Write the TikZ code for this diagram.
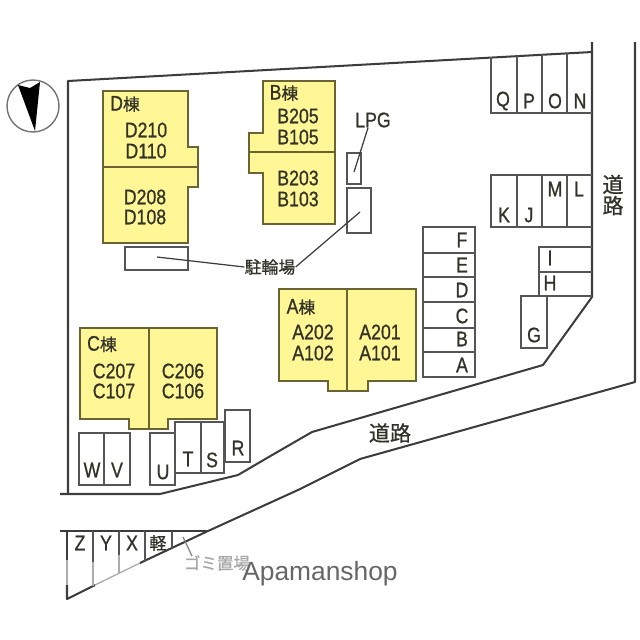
\documentclass[tikz,border=0pt]{standalone}
\usepackage{fontspec}
\setmainfont[FakeStretch=0.84, FakeBold=0.8]{Liberation Sans}
\newfontfamily\cjk[FakeBold=0.8]{Noto Sans CJK JP}
\newfontfamily\logofont{Liberation Sans}
\usepackage{tikz}
\usetikzlibrary{positioning}
\definecolor{buildingyellow}{RGB}{255,247,150}
\definecolor{buildingline}{RGB}{105,100,50}
\definecolor{planline}{RGB}{60,60,60}
\definecolor{stallline}{RGB}{85,85,85}
\definecolor{labelcolor}{RGB}{50,50,40}
\newcommand{\tou}{{\cjk\fontsize{9.6}{10}\selectfont 棟}}
\begin{document}
\begin{tikzpicture}[
    x=0.02cm, y=-0.02cm,
    boundary/.style={draw=planline, line width=1.15pt, line join=round},
    building/.style={draw=buildingline, line width=0.95pt, fill=buildingyellow},
    divider/.style={draw=buildingline, line width=0.95pt},
    stall/.style={draw=stallline, line width=0.75pt},
    faded/.style={draw=gray!65, line width=0.75pt},
    leader/.style={draw=planline, line width=0.7pt},
    lbl/.style={inner sep=0pt, text=labelcolor, font=\fontsize{12}{12}\selectfont},
    kanji/.style={inner sep=0pt, text=labelcolor, font=\cjk\fontsize{9.6}{10}\selectfont},
    road/.style={inner sep=0pt, text=labelcolor, font=\cjk\fontsize{12}{12}\selectfont}
]
    \useasboundingbox (0,0) rectangle (640,640);

    % Compass
    \draw[draw=gray!90!black, line width=0.8pt, fill=white] (33,106) circle (26);
    \fill[black] (18,85) -- (30,88) -- (40,82) -- (35,131) -- cycle;

    % Site and roads
    \draw[boundary] (592,42) -- (592,52) -- (68,81) -- (68,494);
    \draw[boundary] (60,494) -- (160,494) -- (238,475) -- (267,458) -- (312,432) -- (543,365) -- (592,297) -- (592,52);
    \draw[boundary] (635,42) -- (635,382) -- (360,459) -- (298,490) -- (208,531);
    \draw[boundary] (60,531) -- (208,531);
    \draw[boundary] (67,531) -- (67,560);
    \draw[faded] (67,560) -- (67,585);
    \draw[boundary] (67,585) -- (67,599) -- (95,585);
    \draw[faded] (95,585) -- (140,563);
    \draw[boundary] (140,563) -- (208,531);

    % Building D
    \draw[building] (103,91) -- (188,91) -- (188,147) -- (198,147) -- (198,187) -- (188,187) -- (188,243) -- (103,243) -- cycle;
    \draw[divider] (103,167) -- (198,167);
    \node[lbl] (dname) at (125,104) {D\tou};
    \node[lbl] (d210) at (146,130) {D210};
    \node[lbl] (d110) at (146,151) {D110};
    \node[lbl] (d208) at (145,197) {D208};
    \node[lbl] (d108) at (145,217) {D108};

    % Building B
    \draw[building] (263,81) -- (335,81) -- (335,224) -- (263,224) -- (263,173) -- (249,173) -- (249,133) -- (263,133) -- cycle;
    \draw[divider] (249,152) -- (335,152);
    \node[lbl] (bname) at (284,93) {B\tou};
    \node[lbl] (b205) at (298,116) {B205};
    \node[lbl] (b105) at (298,137) {B105};
    \node[lbl] (b203) at (298,178) {B203};
    \node[lbl] (b103) at (298,199) {B103};

    % Building A
    \draw[building] (279,289) -- (416,289) -- (416,381) -- (368,381) -- (368,391) -- (328,391) -- (328,381) -- (279,381) -- cycle;
    \draw[divider] (347,289) -- (347,391);
    \node[lbl] (aname) at (301,307) {A\tou};
    \node[lbl] (a202) at (313,332) {A202};
    \node[lbl] (a102) at (313,353) {A102};
    \node[lbl] (a201) at (380,332) {A201};
    \node[lbl] (a101) at (380,353) {A101};

    % Building C
    \draw[building] (80,328) -- (217,328) -- (217,419) -- (168,419) -- (168,429) -- (129,429) -- (129,419) -- (80,419) -- cycle;
    \draw[divider] (149,328) -- (149,429);
    \node[lbl] (cname) at (102,344) {C\tou};
    \node[lbl] (c207) at (114,371) {C207};
    \node[lbl] (c107) at (114,391) {C107};
    \node[lbl] (c206) at (183,371) {C206};
    \node[lbl] (c106) at (183,391) {C106};

    % Small boxes
    \draw[stall] (125,247) rectangle (188,270);
    \draw[stall] (347,153) rectangle (361,184);
    \draw[stall] (347,188) rectangle (371,233);

    % Parking Q P O N
    \draw[stall] (491,57) -- (491,113) -- (592,113);
    \draw[stall] (517,55) -- (517,113);
    \draw[stall] (542,54) -- (542,113);
    \draw[stall] (567,53) -- (567,113);
    \node[lbl] (q) at (503,101) {Q};
    \node[lbl] (p) at (529,101) {P};
    \node[lbl] (o) at (555,101) {O};
    \node[lbl] (n) at (580,101) {N};

    % Parking K J M L
    \draw[stall] (592,175) -- (491,175) -- (491,227) -- (592,227);
    \draw[stall] (517,175) -- (517,227);
    \draw[stall] (542,175) -- (542,227);
    \draw[stall] (567,175) -- (567,227);
    \node[lbl] (k) at (504,215) {K};
    \node[lbl] (j) at (529,215) {J};
    \node[lbl] (m) at (555,189) {M};
    \node[lbl] (l) at (579,189) {L};

    % Parking F to A
    \draw[stall] (423,227) rectangle (475,377);
    \draw[stall] (423,253) -- (475,253);
    \draw[stall] (423,277) -- (475,277);
    \draw[stall] (423,302) -- (475,302);
    \draw[stall] (423,328) -- (475,328);
    \draw[stall] (423,352) -- (475,352);
    \node[lbl] (f) at (462,240) {F};
    \node[lbl] (e) at (462,265) {E};
    \node[lbl] (d) at (462,290) {D};
    \node[lbl] (c) at (462,316) {C};
    \node[lbl] (b) at (462,339) {B};
    \node[lbl] (a) at (462,365) {A};

    % Parking I H G
    \draw[stall] (592,247) -- (539,247) -- (539,296) -- (592,296);
    \draw[stall] (539,272) -- (592,272);
    \draw[stall] (521,296) rectangle (547,348);
    \node[lbl] (i) at (550,258) {I};
    \node[lbl] (h) at (550,283) {H};
    \node[lbl] (g) at (534,335) {G};

    % Parking W V U T S R
    \draw[stall] (79,433) rectangle (130,485);
    \draw[stall] (104,433) -- (104,485);
    \draw[stall] (150,433) rectangle (175,485);
    \draw[stall] (175,422) rectangle (224,473);
    \draw[stall] (201,422) -- (201,473);
    \draw[stall] (225,410) rectangle (250,462);
    \node[lbl] (w) at (92,470) {W};
    \node[lbl] (v) at (117,470) {V};
    \node[lbl] (u) at (163,472) {U};
    \node[lbl] (t) at (188,459) {T};
    \node[lbl] (s) at (212,460) {S};
    \node[lbl] (r) at (238,448) {R};

    % Parking Z Y X
    \draw[stall] (93,531) -- (93,562);
    \draw[faded] (93,562) -- (93,586);
    \draw[stall] (119,531) -- (119,555);
    \draw[faded] (119,555) -- (119,574);
    \draw[stall] (145,531) -- (145,561);
    \draw[stall] (172,531) -- (172,548);
    \node[lbl] (z) at (80,543) {Z};
    \node[lbl] (y) at (106,543) {Y};
    \node[lbl] (xx) at (132,543) {X};
    \node[kanji] (kei) at (158,543) {軽};

    % Notes and leaders
    \node[lbl] (lpg) at (373,120) {LPG};
    \coordinate (lpgend) at (354,172);
    \draw[leader] (lpg.south) ++(-5,0) -- (lpgend);
    \node[kanji] (bike) at (270,267) {駐輪場};
    \coordinate (bikea) at (157,257);
    \coordinate (bikeb) at (360,212);
    \draw[leader] (bikea) -- (bike.west);
    \draw[leader] (bike.east) -- (bikeb);
    \node[road] (roadh) at (390,433) {道路};
    \node[road, align=center] (roadv) at (613,195) {道\\路};
    \node[inner sep=0pt, text=gray!70, font=\cjk\fontsize{9.4}{10}\selectfont] (trash) at (217,563) {ゴミ置場};
    \coordinate (trasha) at (183,537);
    \coordinate (trashb) at (192,556);
    \draw[leader, draw=gray] (trasha) -- (trashb);
    \node[inner sep=0pt, text=gray!80!black, font=\logofont\fontsize{15}{15}\selectfont] (logo) at (320,574) {Apamanshop};
\end{tikzpicture}
\end{document}
